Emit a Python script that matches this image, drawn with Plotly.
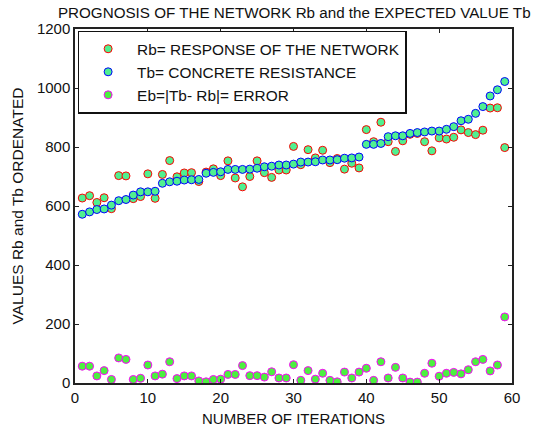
import plotly.graph_objects as go

iterations = list(range(1, 60))

tb_values = [572, 580, 588, 590, 603, 618, 622, 637, 648, 648,
             650, 677, 682, 684, 688, 689, 690, 711, 714, 716,
             724, 724, 724, 725, 728, 733, 735, 739, 739, 742,
             749, 749, 750, 756, 756, 757, 762, 763, 766, 809,
             809, 812, 835, 838, 838, 846, 849, 851, 854, 854,
             860, 869, 889, 894, 914, 937, 973, 994, 1022]

rb_values = [627, 635, 612, 628, 591, 703, 702, 625, 632, 709,
             626, 707, 754, 699, 712, 713, 683, 715, 726, 703,
             753, 695, 665, 700, 753, 713, 697, 722, 722, 802,
             740, 791, 763, 789, 747, 761, 725, 745, 729, 859,
             818, 884, 818, 785, 821, 843, 846, 818, 787, 831,
             827, 833, 858, 849, 842, 857, 932, 933, 798]

eb_values = [57, 57, 24, 42, 12, 85, 80, 12, 16, 61,
             24, 30, 72, 15, 24, 24, 7, 4, 12, 13,
             29, 29, 59, 25, 25, 20, 38, 17, 17, 62,
             9, 42, 13, 33, 9, 4, 37, 17, 37, 50,
             9, 72, 17, 53, 17, 3, 3, 33, 67, 23,
             33, 36, 31, 45, 72, 80, 41, 61, 224]

x_ticks = [0, 10, 20, 30, 40, 50, 60]
y_ticks = [0, 200, 400, 600, 800, 1000, 1200]

FONT = "Liberation Sans, Arial, sans-serif"

fig = go.Figure()
fig.add_trace(go.Scatter(
    x=iterations, y=rb_values, mode="markers",
    name="Rb= RESPONSE OF THE NETWORK",
    marker=dict(symbol="circle", size=8, color="#50F090",
                line=dict(color="#FF0000", width=1))))
fig.add_trace(go.Scatter(
    x=iterations, y=tb_values, mode="markers",
    name="Tb= CONCRETE RESISTANCE",
    marker=dict(symbol="circle", size=8, color="#50F090",
                line=dict(color="#0000FF", width=1))))
fig.add_trace(go.Scatter(
    x=iterations, y=eb_values, mode="markers",
    name="Eb=|Tb- Rb|= ERROR",
    marker=dict(symbol="circle", size=8, color="#4CF040",
                line=dict(color="#FF00FF", width=1))))

axis_common = dict(
    showline=True, linecolor="#222222", linewidth=1.5, mirror="ticks",
    ticks="inside", ticklen=4, tickcolor="#222222", tickwidth=1,
    showgrid=False, zeroline=False, automargin=False,
    tickfont=dict(family=FONT, size=15, color="#111111"),
)

fig.update_layout(
    width=537, height=429,
    margin=dict(l=75, r=25, t=29, b=46),
    paper_bgcolor="white", plot_bgcolor="white",
    title=dict(text="PROGNOSIS OF THE NETWORK Rb and the EXPECTED VALUE Tb",
               x=0.548, xanchor="center", y=0.97, yanchor="middle",
               font=dict(family=FONT, size=15.2, color="#111111")),
    xaxis=dict(range=[0, 60], tickvals=x_ticks, **axis_common),
    yaxis=dict(range=[0, 1200], tickvals=y_ticks,
               title=dict(text="VALUES Rb and Tb ORDENATED", standoff=9,
                          font=dict(family=FONT, size=15.5, color="#111111")),
               **axis_common),
    legend=dict(x=0.006, y=0.995, xanchor="left", yanchor="top",
                bgcolor="white", bordercolor="#111111", borderwidth=1.5,
                itemwidth=48,
                font=dict(family=FONT, size=15.4, color="#111111")),
    showlegend=True,
    annotations=[dict(text="NUMBER OF ITERATIONS", xref="paper", yref="paper",
                      x=0.5, y=-0.1, xanchor="center", yanchor="middle",
                      showarrow=False,
                      font=dict(family=FONT, size=15, color="#111111"))],
)

fig.write_html(
    "out.html",
    config={"displayModeBar": False},
    post_script="document.body.style.margin='0';document.body.style.overflow='hidden';",
)
